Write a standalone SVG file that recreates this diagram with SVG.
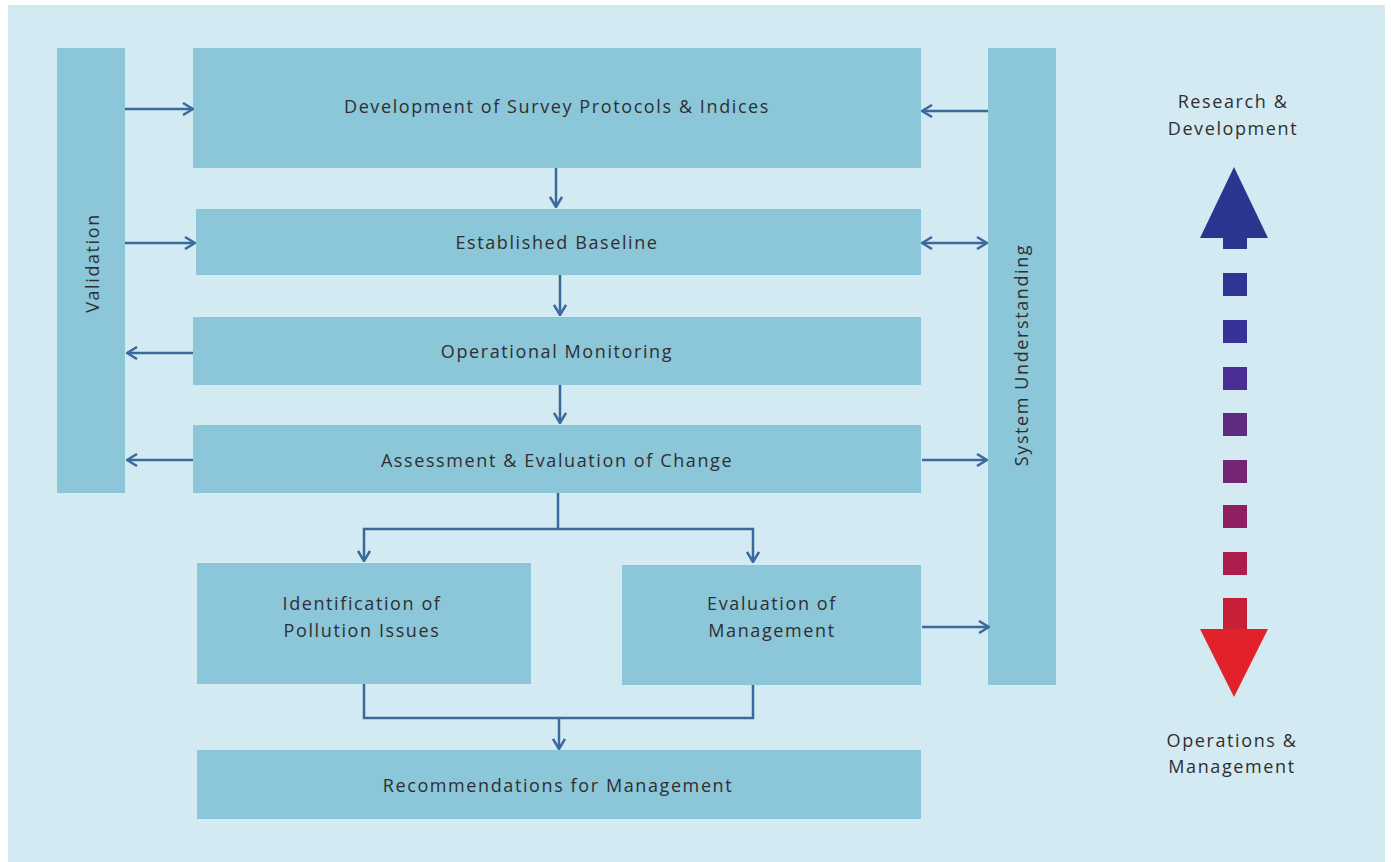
<svg xmlns="http://www.w3.org/2000/svg" width="1391" height="862" viewBox="0 0 1391 862">
<style>
.box{fill:#8cc6d9}
.lbl{font-family:"Open Sans","Liberation Sans",sans-serif;font-size:18px;letter-spacing:1.6px;fill:#2f2f2f;text-anchor:middle}
.con{fill:none;stroke:#3a6a9b;stroke-width:2.5}
</style>
<defs>
<marker id="ah" viewBox="0 0 12 14" refX="11" refY="7" markerWidth="12" markerHeight="14" markerUnits="userSpaceOnUse" orient="auto-start-reverse">
<path d="M1,1 L11,7 L1,13" fill="none" stroke="#3a6a9b" stroke-width="2.5"/>
</marker>
</defs>
<rect x="0" y="0" width="1391" height="862" fill="#ffffff"/>
<rect x="8" y="5" width="1377" height="857" fill="#d4eaf2"/>

<g id="validation"><rect class="box" x="57" y="48" width="68" height="445"/><text class="lbl" transform="translate(99,263) rotate(-90)">Validation</text></g>
<g id="system-understanding"><rect class="box" x="988" y="48" width="68" height="637"/><text class="lbl" transform="translate(1028,355) rotate(-90)">System Understanding</text></g>
<g id="development"><rect class="box" x="193" y="48" width="728" height="120"/><text class="lbl" x="557" y="113">Development of Survey Protocols &amp; Indices</text></g>
<g id="baseline"><rect class="box" x="196" y="209" width="725" height="66"/><text class="lbl" x="557" y="249">Established Baseline</text></g>
<g id="operational"><rect class="box" x="193" y="317" width="728" height="68"/><text class="lbl" x="557" y="358">Operational Monitoring</text></g>
<g id="assessment"><rect class="box" x="193" y="425" width="728" height="68"/><text class="lbl" x="557" y="467">Assessment &amp; Evaluation of Change</text></g>
<g id="identification"><rect class="box" x="197" y="563" width="334" height="121"/><text class="lbl" x="362" y="610">Identification of</text><text class="lbl" x="362" y="637">Pollution Issues</text></g>
<g id="evaluation"><rect class="box" x="622" y="565" width="299" height="120"/><text class="lbl" x="772" y="610">Evaluation of</text><text class="lbl" x="772" y="637">Management</text></g>
<g id="recommendations"><rect class="box" x="197" y="750" width="724" height="69"/><text class="lbl" x="558" y="792">Recommendations for Management</text></g>

<g id="connectors">
<path class="con" d="M125,109 H193" marker-end="url(#ah)"/>
<path class="con" d="M125,243 H195" marker-end="url(#ah)"/>
<path class="con" d="M193,353 H127" marker-end="url(#ah)"/>
<path class="con" d="M193,460 H127" marker-end="url(#ah)"/>
<path class="con" d="M988,111 H922" marker-end="url(#ah)"/>
<path class="con" d="M922,243 H987" marker-start="url(#ah)" marker-end="url(#ah)"/>
<path class="con" d="M922,460 H987" marker-end="url(#ah)"/>
<path class="con" d="M922,627 H989" marker-end="url(#ah)"/>
<path class="con" d="M556,168 V207" marker-end="url(#ah)"/>
<path class="con" d="M560,275 V315" marker-end="url(#ah)"/>
<path class="con" d="M560,385 V423" marker-end="url(#ah)"/>
<path class="con" d="M558,493 V529"/>
<path class="con" d="M558,529 H364 V561" marker-end="url(#ah)"/>
<path class="con" d="M558,529 H753 V562" marker-end="url(#ah)"/>
<path class="con" d="M364,684 V718 H753 V685"/>
<path class="con" d="M559,718 V749" marker-end="url(#ah)"/>
</g>

<g id="scale-arrow">
<polygon points="1234,167 1268,238 1200,238" fill="#2b3590"/>
<rect x="1223" y="237" width="24" height="12" fill="#2b3590"/>
<rect x="1223" y="273" width="24" height="23" fill="#2e3595"/>
<rect x="1223" y="320" width="24" height="23" fill="#373298"/>
<rect x="1223" y="367" width="24" height="23" fill="#4a2e93"/>
<rect x="1223" y="413" width="24" height="23" fill="#5e2a82"/>
<rect x="1223" y="460" width="24" height="23" fill="#742574"/>
<rect x="1223" y="505" width="24" height="23" fill="#8e2062"/>
<rect x="1223" y="552" width="24" height="23" fill="#ae1e4c"/>
<rect x="1223" y="598" width="24" height="32" fill="#c9203a"/>
<polygon points="1200,629 1268,629 1234,697" fill="#e2222b"/>
<text class="lbl" x="1233" y="108">Research &amp;</text>
<text class="lbl" x="1233" y="135">Development</text>
<text class="lbl" x="1232" y="747">Operations &amp;</text>
<text class="lbl" x="1232" y="773">Management</text>
</g>
</svg>
